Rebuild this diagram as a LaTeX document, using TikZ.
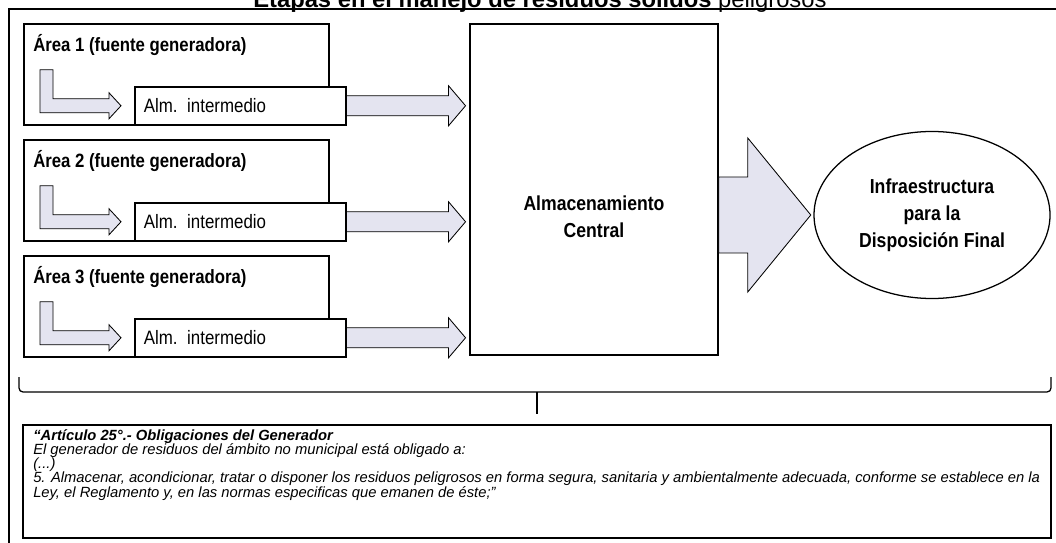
\documentclass[tikz,border=0pt]{standalone}
\usepackage{fontspec}
\setmainfont{Liberation Sans}
\newfontfamily\narrowfont[FakeStretch=0.87]{Liberation Sans}
\usepackage{tikz}
\usetikzlibrary{shapes.geometric, calc}
\newlength{\pxu}
\setlength{\pxu}{0.025cm}
\definecolor{arrowfill}{RGB}{228,228,240}
\tikzstyle{areabox} = [draw, line width=1.1pt, fill=white, minimum width=305\pxu, minimum height=101\pxu, inner sep=0pt]
\tikzstyle{almbox} = [draw, line width=1.1pt, fill=white, minimum height=38\pxu, text width=193\pxu, inner xsep=9\pxu, inner ysep=0pt, align=left, font=\narrowfont\fontsize{13.8}{16}\selectfont]
\tikzstyle{arealabel} = [inner sep=0pt, font=\narrowfont\fontsize{13.7}{16}\selectfont\bfseries]
\tikzstyle{blockarrow} = [draw, line width=0.6pt, fill=arrowfill, line join=miter]
\tikzstyle{bigtext} = [align=center, font=\narrowfont\fontsize{14.4}{19.2}\selectfont\bfseries]
\tikzstyle{normatext} = [anchor=base west, inner sep=0pt, font=\fontsize{10.5}{12}\selectfont\itshape]

\begin{document}
\begin{tikzpicture}[x=\pxu, y=-\pxu]
  \useasboundingbox (0,0) rectangle (1056,543);
  \clip (0,0) rectangle (1056,543);
  % title, cut at the top edge
  \node[anchor=base west, inner sep=0pt, font=\fontsize{16.9}{19}\selectfont] (titulo) at (253,7.5)
    {\textbf{Etapas en el manejo de residuos sólidos} peligrosos};
  \draw[line width=2pt] (9,543) -- (9,9) -- (1056,9);
  % source areas
  \foreach \i/\y in {1/23, 2/139, 3/255} {
    \node[areabox, anchor=north west] (area\i) at (23,\y) {};
    \node[arealabel, anchor=west] (lab\i) at ($(area\i.north west)+(10,22)$) {Área \i\ (fuente generadora)};
    \node[almbox, anchor=south east] (alm\i) at ($(area\i.south east)+(17,0)$) {Alm. intermedio};
    \draw[blockarrow] ($(alm\i.west)+(-94,-36)$) -- ++(13,0) -- ++(0,29) -- ++(56,0) -- ++(0,-6)
      -- ++(12,13) -- ++(-12,13) -- ++(0,-6) -- ++(-69,0) -- cycle;
    \draw[blockarrow] ($(alm\i.east)+(0,-10)$) -- ++(102,0) -- ++(0,-10) -- ++(17,20)
      -- ++(-17,20) -- ++(0,-10) -- ++(-102,0) -- cycle;
  }
  % central storage and final disposal
  \node[draw, line width=1.1pt, minimum width=248\pxu, minimum height=331\pxu, inner sep=0pt] (central) at (594,189.5) {};
  \node[bigtext] (centraltxt) at ($(central.center)+(0,27)$) {Almacenamiento\\Central};
  \node[ellipse, draw, line width=0.9pt, minimum width=236\pxu, minimum height=167\pxu, inner sep=0pt, bigtext] (disp) at (932,215)
    {Infraestructura\\para la\\Disposición Final};
  \draw[blockarrow] ($(central.east |- disp.west)+(0,-38)$) -- ++(29,0) -- ++(0,-39) -- ++(63,77)
    -- ++(-63,77) -- ++(0,-39) -- ++(-29,0) -- cycle;
  % legal text
  \node[draw, line width=1.4pt, minimum width=1028\pxu, minimum height=113\pxu, inner sep=0pt, anchor=north west] (norma) at (22,424) {};
  \draw[line width=0.9pt, rounded corners=4\pxu] (19,377) -- (19,392) -- (1051,392) -- (1051,377);
  \draw[line width=0.9pt] (norma.north |- 0,392) -- ($(norma.north)+(0,-10)$);
  \node[normatext] (linea1) at ($(norma.north west)+(11,16)$) {\textbf{“Artículo 25°.- Obligaciones del Generador}};
  \node[normatext] (linea2) at ($(linea1.base west)+(0,14.25)$) {El generador de residuos del ámbito no municipal está obligado a:};
  \node[normatext] (linea3) at ($(linea2.base west)+(0,14.25)$) {(...)};
  \node[normatext] (linea4) at ($(linea3.base west)+(0,14.25)$) {5. Almacenar, acondicionar, tratar o disponer los residuos peligrosos en forma segura, sanitaria y ambientalmente adecuada, conforme se establece en la};
  \node[normatext] (linea5) at ($(linea4.base west)+(0,14.25)$) {Ley, el Reglamento y, en las normas especificas que emanen de éste;”};
\end{tikzpicture}
\end{document}
